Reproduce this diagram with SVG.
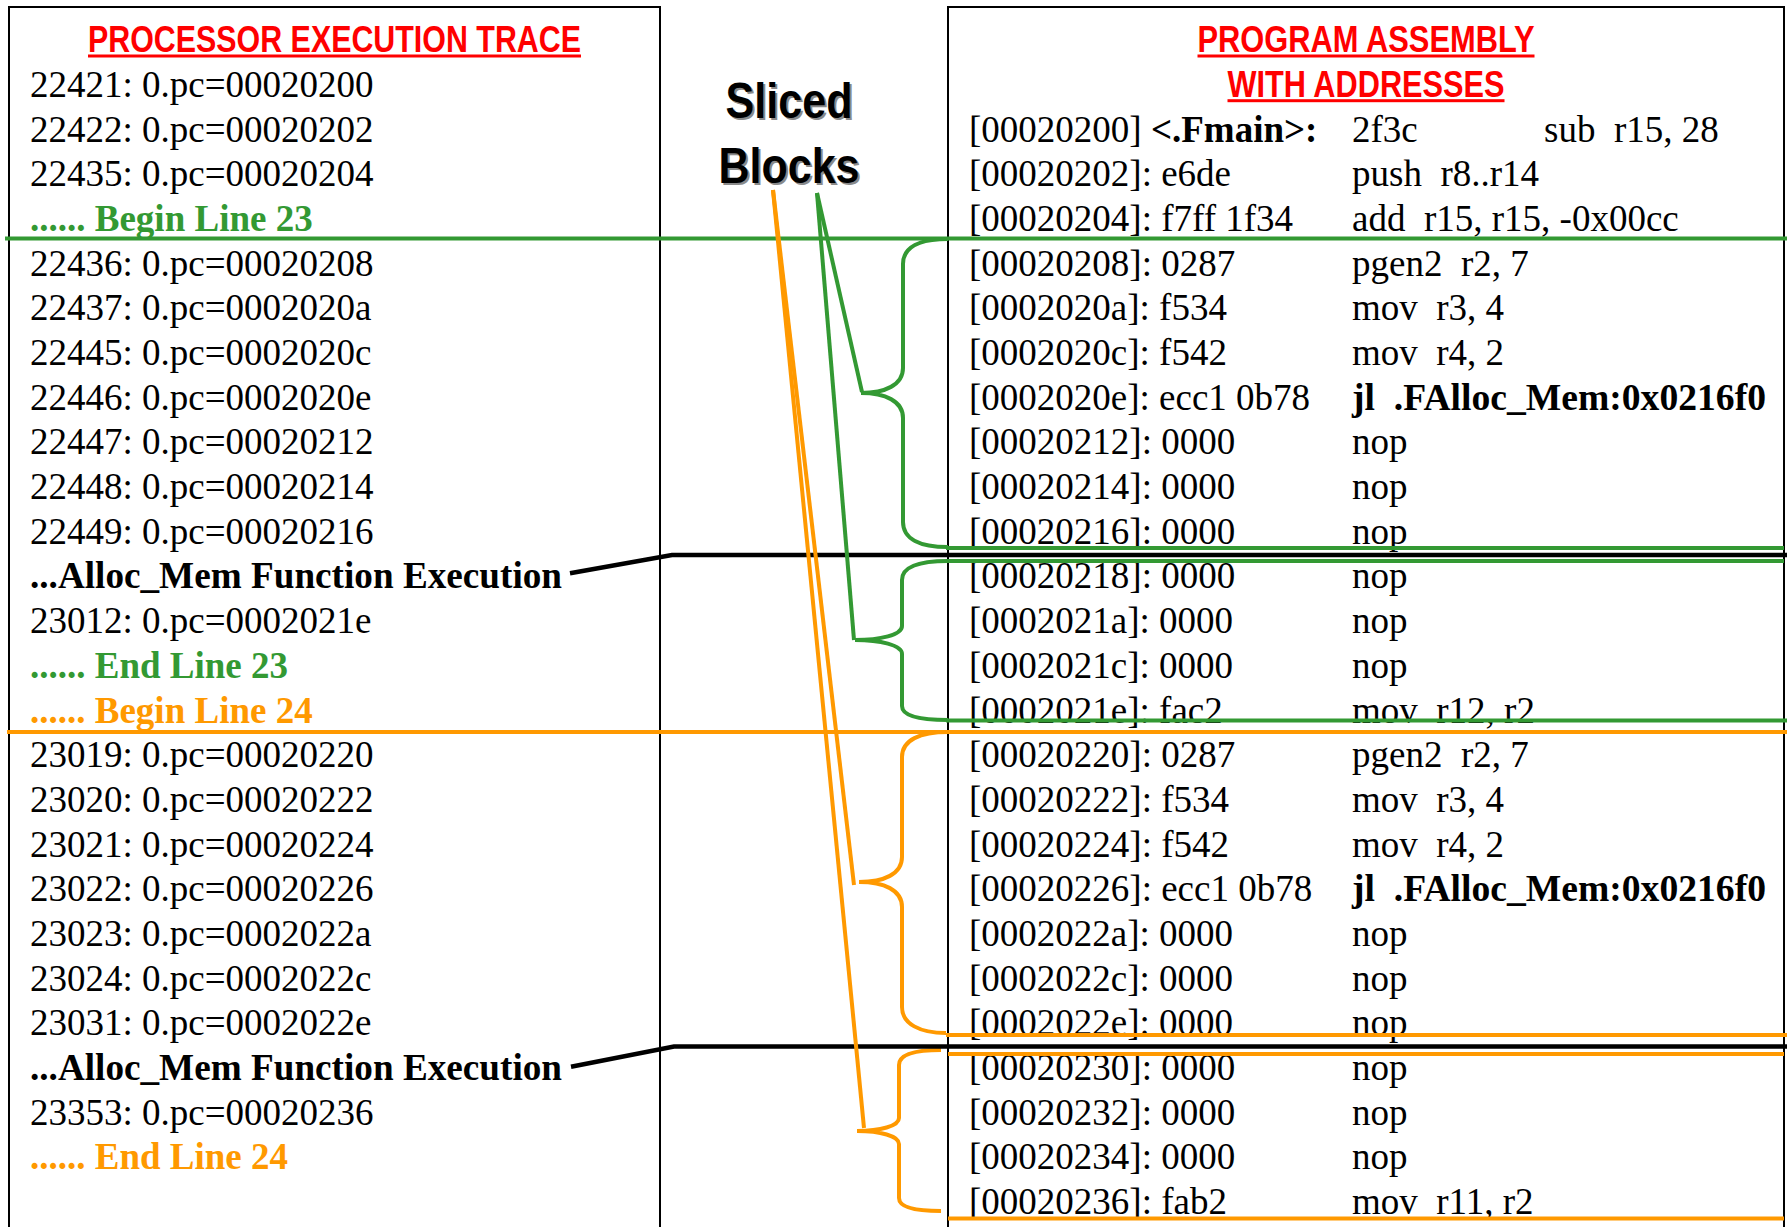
<svg xmlns="http://www.w3.org/2000/svg" width="1787" height="1227" viewBox="0 0 1787 1227">
  <style>
    .row { font-family: "Liberation Serif", "Times New Roman", serif; font-size: 37px; fill: #000; white-space: pre; }
    .b { font-weight: bold; }
    .grn { fill: #339933; font-weight: bold; }
    .org { fill: #FF9900; font-weight: bold; }
    .title { font-family: "Liberation Sans", Arial, sans-serif; font-size: 36px; font-weight: bold; fill: #FF0000; }
    .uline { fill: #FF0000; }
    .label { font-family: "Liberation Sans", Arial, sans-serif; font-size: 50px; font-weight: bold; }
    .panel { fill: none; stroke: #000; stroke-width: 2; }
    .g { fill: none; stroke: #339933; stroke-width: 4; }
    .o { fill: none; stroke: #FF9900; stroke-width: 4; }
    .k { fill: none; stroke: #000; stroke-width: 4.5; }
  </style>
  <rect width="1787" height="1227" fill="#fff"/>

  <!-- Left panel: processor execution trace -->
  <g id="trace-panel">
    <rect class="panel" x="9" y="7" width="651" height="1240"/>
    <text class="title" x="334.5" y="52.4" text-anchor="middle" textLength="493" lengthAdjust="spacingAndGlyphs">PROCESSOR EXECUTION TRACE</text>
    <rect class="uline" x="88" y="54.5" width="493" height="3"/>
    <text class="row" x="30" y="96.8">22421: 0.pc=00020200</text>
    <text class="row" x="30" y="141.5">22422: 0.pc=00020202</text>
    <text class="row" x="30" y="186.2">22435: 0.pc=00020204</text>
    <text class="row grn" x="30" y="230.9">...... Begin Line 23</text>
    <text class="row" x="30" y="275.6">22436: 0.pc=00020208</text>
    <text class="row" x="30" y="320.3">22437: 0.pc=0002020a</text>
    <text class="row" x="30" y="364.9">22445: 0.pc=0002020c</text>
    <text class="row" x="30" y="409.6">22446: 0.pc=0002020e</text>
    <text class="row" x="30" y="454.3">22447: 0.pc=00020212</text>
    <text class="row" x="30" y="499.0">22448: 0.pc=00020214</text>
    <text class="row" x="30" y="543.7">22449: 0.pc=00020216</text>
    <text class="row b" x="30" y="588.4" textLength="532" lengthAdjust="spacingAndGlyphs">...Alloc_Mem Function Execution</text>
    <text class="row" x="30" y="633.1">23012: 0.pc=0002021e</text>
    <text class="row grn" x="30" y="677.8">...... End Line 23</text>
    <text class="row org" x="30" y="722.5">...... Begin Line 24</text>
    <text class="row" x="30" y="767.2">23019: 0.pc=00020220</text>
    <text class="row" x="30" y="811.8">23020: 0.pc=00020222</text>
    <text class="row" x="30" y="856.5">23021: 0.pc=00020224</text>
    <text class="row" x="30" y="901.2">23022: 0.pc=00020226</text>
    <text class="row" x="30" y="945.9">23023: 0.pc=0002022a</text>
    <text class="row" x="30" y="990.6">23024: 0.pc=0002022c</text>
    <text class="row" x="30" y="1035.3">23031: 0.pc=0002022e</text>
    <text class="row b" x="30" y="1080.0" textLength="532" lengthAdjust="spacingAndGlyphs">...Alloc_Mem Function Execution</text>
    <text class="row" x="30" y="1124.7">23353: 0.pc=00020236</text>
    <text class="row org" x="30" y="1169.4">...... End Line 24</text>
  </g>

  <!-- Right panel: program assembly with addresses -->
  <g id="assembly-panel">
    <rect class="panel" x="948" y="7" width="836" height="1240"/>
    <text class="title" x="1366" y="52.4" text-anchor="middle" textLength="337" lengthAdjust="spacingAndGlyphs">PROGRAM ASSEMBLY</text>
    <rect class="uline" x="1197.5" y="54.5" width="337" height="3"/>
    <text class="title" x="1366" y="97.1" text-anchor="middle" textLength="277" lengthAdjust="spacingAndGlyphs">WITH ADDRESSES</text>
    <rect class="uline" x="1227.5" y="99.2" width="277" height="3"/>

    <text class="row" x="969" y="141.5">[00020200] <tspan class="b">&lt;.Fmain&gt;:</tspan></text>
    <text class="row" x="1352" y="141.5">2f3c</text>
    <text class="row" x="1544" y="141.5">sub  r15, 28</text>

    <text class="row" x="969" y="186.2">[00020202]: e6de</text>
    <text class="row" x="1352" y="186.2">push  r8..r14</text>
    <text class="row" x="969" y="230.9">[00020204]: f7ff 1f34</text>
    <text class="row" x="1352" y="230.9">add  r15, r15, -0x00cc</text>
    <text class="row" x="969" y="275.6">[00020208]: 0287</text>
    <text class="row" x="1352" y="275.6">pgen2  r2, 7</text>
    <text class="row" x="969" y="320.3">[0002020a]: f534</text>
    <text class="row" x="1352" y="320.3">mov  r3, 4</text>
    <text class="row" x="969" y="364.9">[0002020c]: f542</text>
    <text class="row" x="1352" y="364.9">mov  r4, 2</text>
    <text class="row" x="969" y="409.6">[0002020e]: ecc1 0b78</text>
    <text class="row b" x="1352" y="409.6" textLength="414" lengthAdjust="spacingAndGlyphs">jl  .FAlloc_Mem:0x0216f0</text>
    <text class="row" x="969" y="454.3">[00020212]: 0000</text>
    <text class="row" x="1352" y="454.3">nop</text>
    <text class="row" x="969" y="499.0">[00020214]: 0000</text>
    <text class="row" x="1352" y="499.0">nop</text>
    <text class="row" x="969" y="543.7">[00020216]: 0000</text>
    <text class="row" x="1352" y="543.7">nop</text>
    <text class="row" x="969" y="588.4">[00020218]: 0000</text>
    <text class="row" x="1352" y="588.4">nop</text>
    <text class="row" x="969" y="633.1">[0002021a]: 0000</text>
    <text class="row" x="1352" y="633.1">nop</text>
    <text class="row" x="969" y="677.8">[0002021c]: 0000</text>
    <text class="row" x="1352" y="677.8">nop</text>
    <text class="row" x="969" y="722.5">[0002021e]: fac2</text>
    <text class="row" x="1352" y="722.5">mov  r12, r2</text>
    <text class="row" x="969" y="767.2">[00020220]: 0287</text>
    <text class="row" x="1352" y="767.2">pgen2  r2, 7</text>
    <text class="row" x="969" y="811.8">[00020222]: f534</text>
    <text class="row" x="1352" y="811.8">mov  r3, 4</text>
    <text class="row" x="969" y="856.5">[00020224]: f542</text>
    <text class="row" x="1352" y="856.5">mov  r4, 2</text>
    <text class="row" x="969" y="901.2">[00020226]: ecc1 0b78</text>
    <text class="row b" x="1352" y="901.2" textLength="414" lengthAdjust="spacingAndGlyphs">jl  .FAlloc_Mem:0x0216f0</text>
    <text class="row" x="969" y="945.9">[0002022a]: 0000</text>
    <text class="row" x="1352" y="945.9">nop</text>
    <text class="row" x="969" y="990.6">[0002022c]: 0000</text>
    <text class="row" x="1352" y="990.6">nop</text>
    <text class="row" x="969" y="1035.3">[0002022e]: 0000</text>
    <text class="row" x="1352" y="1035.3">nop</text>
    <text class="row" x="969" y="1080.0">[00020230]: 0000</text>
    <text class="row" x="1352" y="1080.0">nop</text>
    <text class="row" x="969" y="1124.7">[00020232]: 0000</text>
    <text class="row" x="1352" y="1124.7">nop</text>
    <text class="row" x="969" y="1169.4">[00020234]: 0000</text>
    <text class="row" x="1352" y="1169.4">nop</text>
    <text class="row" x="969" y="1214.1">[00020236]: fab2</text>
    <text class="row" x="1352" y="1214.1">mov  r11, r2</text>
  </g>

  <!-- "Sliced Blocks" caption with drop shadow -->
  <g id="sliced-label">
    <text class="label" x="791" y="120" text-anchor="middle" fill="#8a8a8a" textLength="127" lengthAdjust="spacingAndGlyphs">Sliced</text>
    <text class="label" x="791" y="185" text-anchor="middle" fill="#8a8a8a" textLength="141" lengthAdjust="spacingAndGlyphs">Blocks</text>
    <text class="label" x="789" y="118" text-anchor="middle" fill="#000" textLength="127" lengthAdjust="spacingAndGlyphs">Sliced</text>
    <text class="label" x="789" y="183" text-anchor="middle" fill="#000" textLength="141" lengthAdjust="spacingAndGlyphs">Blocks</text>
  </g>

  <g id="connectors">
    <!-- line 23 boundaries and braces -->
    <line class="g" x1="5" y1="238.5" x2="1787" y2="238.5"/>
    <path class="g" d="M948,239 C920,239 903,247 903,264 L903,368 C903,385 885,393 861,393 C885,393 903,401 903,418 L903,522 C903,539 920,547 948,547"/>
    <line class="g" x1="946" y1="548" x2="1784" y2="548"/>
    <line class="g" x1="946" y1="561" x2="1784" y2="561"/>
    <path class="g" d="M948,561 C920,561 902,566 902,580 L902,626 C902,635 880,640 855,640 C880,640 902,645 902,654 L902,706 C902,716 920,720 948,720"/>
    <line class="g" x1="946" y1="720.5" x2="1787" y2="720.5"/>

    <!-- line 24 boundaries and braces -->
    <line class="o" x1="7" y1="732" x2="1787" y2="732"/>
    <path class="o" d="M948,732 C920,732 902,740 902,757 L902,857 C902,874 884,882 859,882 C884,882 902,890 902,907 L902,1007 C902,1024 920,1033 946,1033"/>
    <line class="o" x1="946" y1="1035" x2="1787" y2="1035"/>
    <line class="o" x1="948" y1="1054" x2="1784" y2="1054"/>
    <path class="o" d="M941,1050 C915,1050 899,1054 899,1065 L899,1118 C899,1126 880,1131 857,1131 C880,1131 899,1136 899,1144 L899,1198 C899,1207 915,1211 941,1211"/>
    <line class="o" x1="948" y1="1218.5" x2="1784" y2="1218.5"/>

    <!-- function-call markers -->
    <polyline class="k" points="570,573.3 672,555 1787,555"/>
    <polyline class="k" points="571,1066.8 674,1046.5 1787,1046.5"/>

    <!-- caption leaders to each sliced block -->
    <line class="g" x1="817" y1="193" x2="862" y2="392"/>
    <line class="g" x1="817" y1="193" x2="854" y2="640"/>
    <line class="o" x1="773" y1="190" x2="854" y2="885"/>
    <line class="o" x1="773" y1="190" x2="864" y2="1128"/>
  </g>
</svg>
